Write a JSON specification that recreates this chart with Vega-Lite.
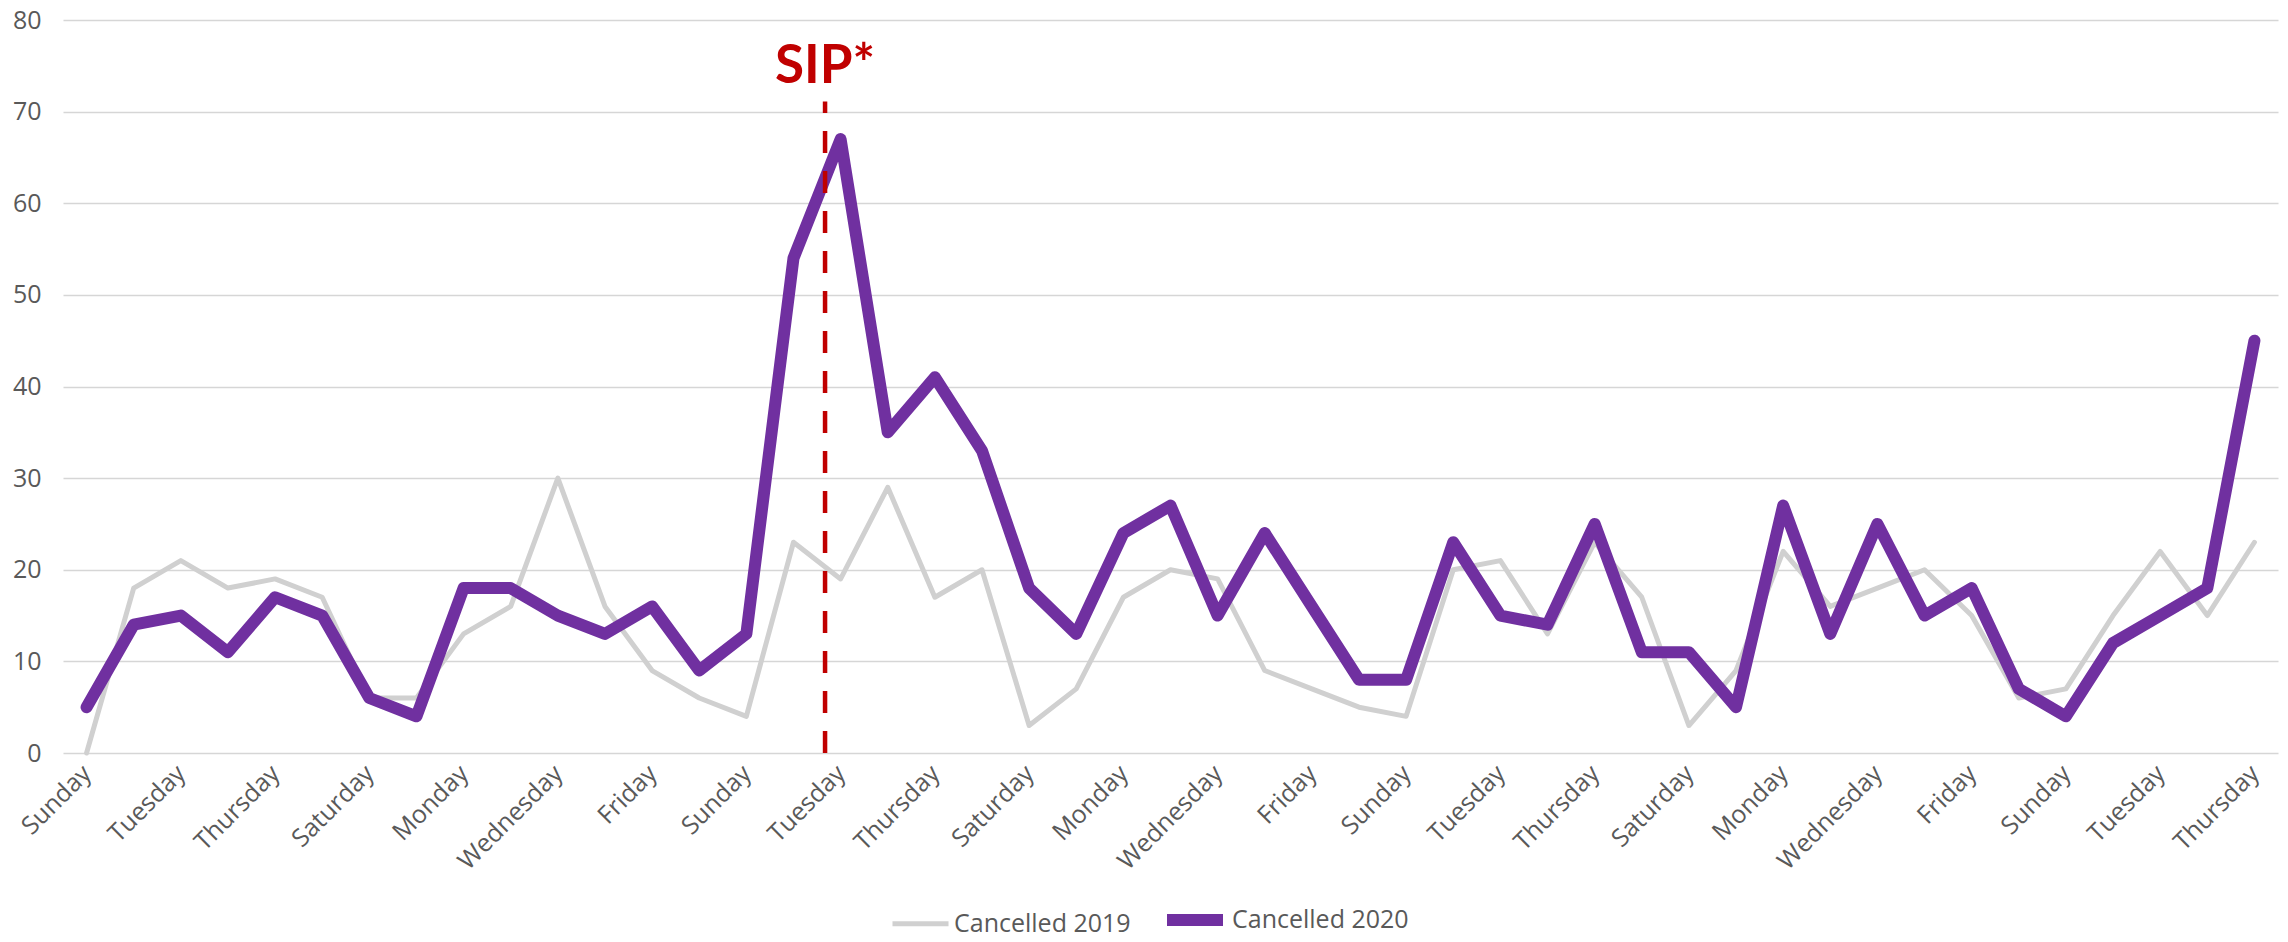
{
  "$schema": "https://vega.github.io/schema/vega-lite/v6.json",
  "width": 2215,
  "height": 733,
  "autosize": {"type": "none"},
  "padding": {"left": 63, "top": 20, "right": 10, "bottom": 189},
  "background": "white",
  "config": {
    "view": {"stroke": null},
    "font": "Open Sans"
  },
  "layer": [
    {
      "data": {
        "values": [
          {"day": 0, "series": "Cancelled 2019", "value": 0},
          {"day": 1, "series": "Cancelled 2019", "value": 18},
          {"day": 2, "series": "Cancelled 2019", "value": 21},
          {"day": 3, "series": "Cancelled 2019", "value": 18},
          {"day": 4, "series": "Cancelled 2019", "value": 19},
          {"day": 5, "series": "Cancelled 2019", "value": 17},
          {"day": 6, "series": "Cancelled 2019", "value": 6},
          {"day": 7, "series": "Cancelled 2019", "value": 6},
          {"day": 8, "series": "Cancelled 2019", "value": 13},
          {"day": 9, "series": "Cancelled 2019", "value": 16},
          {"day": 10, "series": "Cancelled 2019", "value": 30},
          {"day": 11, "series": "Cancelled 2019", "value": 16},
          {"day": 12, "series": "Cancelled 2019", "value": 9},
          {"day": 13, "series": "Cancelled 2019", "value": 6},
          {"day": 14, "series": "Cancelled 2019", "value": 4},
          {"day": 15, "series": "Cancelled 2019", "value": 23},
          {"day": 16, "series": "Cancelled 2019", "value": 19},
          {"day": 17, "series": "Cancelled 2019", "value": 29},
          {"day": 18, "series": "Cancelled 2019", "value": 17},
          {"day": 19, "series": "Cancelled 2019", "value": 20},
          {"day": 20, "series": "Cancelled 2019", "value": 3},
          {"day": 21, "series": "Cancelled 2019", "value": 7},
          {"day": 22, "series": "Cancelled 2019", "value": 17},
          {"day": 23, "series": "Cancelled 2019", "value": 20},
          {"day": 24, "series": "Cancelled 2019", "value": 19},
          {"day": 25, "series": "Cancelled 2019", "value": 9},
          {"day": 26, "series": "Cancelled 2019", "value": 7},
          {"day": 27, "series": "Cancelled 2019", "value": 5},
          {"day": 28, "series": "Cancelled 2019", "value": 4},
          {"day": 29, "series": "Cancelled 2019", "value": 20},
          {"day": 30, "series": "Cancelled 2019", "value": 21},
          {"day": 31, "series": "Cancelled 2019", "value": 13},
          {"day": 32, "series": "Cancelled 2019", "value": 23},
          {"day": 33, "series": "Cancelled 2019", "value": 17},
          {"day": 34, "series": "Cancelled 2019", "value": 3},
          {"day": 35, "series": "Cancelled 2019", "value": 9},
          {"day": 36, "series": "Cancelled 2019", "value": 22},
          {"day": 37, "series": "Cancelled 2019", "value": 16},
          {"day": 38, "series": "Cancelled 2019", "value": 18},
          {"day": 39, "series": "Cancelled 2019", "value": 20},
          {"day": 40, "series": "Cancelled 2019", "value": 15},
          {"day": 41, "series": "Cancelled 2019", "value": 6},
          {"day": 42, "series": "Cancelled 2019", "value": 7},
          {"day": 43, "series": "Cancelled 2019", "value": 15},
          {"day": 44, "series": "Cancelled 2019", "value": 22},
          {"day": 45, "series": "Cancelled 2019", "value": 15},
          {"day": 46, "series": "Cancelled 2019", "value": 23},
          {"day": 0, "series": "Cancelled 2020", "value": 5},
          {"day": 1, "series": "Cancelled 2020", "value": 14},
          {"day": 2, "series": "Cancelled 2020", "value": 15},
          {"day": 3, "series": "Cancelled 2020", "value": 11},
          {"day": 4, "series": "Cancelled 2020", "value": 17},
          {"day": 5, "series": "Cancelled 2020", "value": 15},
          {"day": 6, "series": "Cancelled 2020", "value": 6},
          {"day": 7, "series": "Cancelled 2020", "value": 4},
          {"day": 8, "series": "Cancelled 2020", "value": 18},
          {"day": 9, "series": "Cancelled 2020", "value": 18},
          {"day": 10, "series": "Cancelled 2020", "value": 15},
          {"day": 11, "series": "Cancelled 2020", "value": 13},
          {"day": 12, "series": "Cancelled 2020", "value": 16},
          {"day": 13, "series": "Cancelled 2020", "value": 9},
          {"day": 14, "series": "Cancelled 2020", "value": 13},
          {"day": 15, "series": "Cancelled 2020", "value": 54},
          {"day": 16, "series": "Cancelled 2020", "value": 67},
          {"day": 17, "series": "Cancelled 2020", "value": 35},
          {"day": 18, "series": "Cancelled 2020", "value": 41},
          {"day": 19, "series": "Cancelled 2020", "value": 33},
          {"day": 20, "series": "Cancelled 2020", "value": 18},
          {"day": 21, "series": "Cancelled 2020", "value": 13},
          {"day": 22, "series": "Cancelled 2020", "value": 24},
          {"day": 23, "series": "Cancelled 2020", "value": 27},
          {"day": 24, "series": "Cancelled 2020", "value": 15},
          {"day": 25, "series": "Cancelled 2020", "value": 24},
          {"day": 26, "series": "Cancelled 2020", "value": 16},
          {"day": 27, "series": "Cancelled 2020", "value": 8},
          {"day": 28, "series": "Cancelled 2020", "value": 8},
          {"day": 29, "series": "Cancelled 2020", "value": 23},
          {"day": 30, "series": "Cancelled 2020", "value": 15},
          {"day": 31, "series": "Cancelled 2020", "value": 14},
          {"day": 32, "series": "Cancelled 2020", "value": 25},
          {"day": 33, "series": "Cancelled 2020", "value": 11},
          {"day": 34, "series": "Cancelled 2020", "value": 11},
          {"day": 35, "series": "Cancelled 2020", "value": 5},
          {"day": 36, "series": "Cancelled 2020", "value": 27},
          {"day": 37, "series": "Cancelled 2020", "value": 13},
          {"day": 38, "series": "Cancelled 2020", "value": 25},
          {"day": 39, "series": "Cancelled 2020", "value": 15},
          {"day": 40, "series": "Cancelled 2020", "value": 18},
          {"day": 41, "series": "Cancelled 2020", "value": 7},
          {"day": 42, "series": "Cancelled 2020", "value": 4},
          {"day": 43, "series": "Cancelled 2020", "value": 12},
          {"day": 44, "series": "Cancelled 2020", "value": 15},
          {"day": 45, "series": "Cancelled 2020", "value": 18},
          {"day": 46, "series": "Cancelled 2020", "value": 45}
        ]
      },
      "mark": {"type": "line", "strokeCap": "round", "strokeJoin": "round"},
      "encoding": {
        "x": {
          "field": "day",
          "type": "quantitative",
          "scale": {"domain": [-0.5, 46.5], "nice": false, "zero": false},
          "axis": {
            "title": null,
            "values": [0, 2, 4, 6, 8, 10, 12, 14, 16, 18, 20, 22, 24, 26, 28, 30, 32, 34, 36, 38, 40, 42, 44, 46],
            "labelExpr": "['Sunday','Monday','Tuesday','Wednesday','Thursday','Friday','Saturday'][datum.value % 7]",
            "labelAngle": -45,
            "labelAlign": "right",
            "labelBaseline": "middle",
            "labelPadding": 16,
            "labelFontSize": 25,
            "labelColor": "#595959",
            "labelOverlap": false,
            "labelFlush": false,
            "grid": false,
            "ticks": false,
            "domain": false
          }
        },
        "y": {
          "field": "value",
          "type": "quantitative",
          "scale": {"domain": [0, 80], "nice": false},
          "axis": {
            "title": null,
            "values": [0, 10, 20, 30, 40, 50, 60, 70, 80],
            "grid": true,
            "gridColor": "#D6D6D6",
            "gridWidth": 1.6,
            "ticks": false,
            "domain": false,
            "labelPadding": 22,
            "labelFontSize": 25,
            "labelColor": "#595959"
          }
        },
        "color": {
          "field": "series",
          "type": "nominal",
          "scale": {"domain": ["Cancelled 2019", "Cancelled 2020"], "range": ["#D0D0D0", "#7030A0"]},
          "legend": {
            "title": null,
            "orient": "none",
            "legendX": 827,
            "legendY": 866,
            "direction": "horizontal",
            "symbolType": "stroke",
            "symbolSize": 3136,
            "labelFontSize": 25,
            "labelColor": "#595959",
            "labelOffset": 3,
            "labelLimit": 400,
            "columnPadding": 12
          }
        },
        "strokeWidth": {
          "field": "series",
          "type": "nominal",
          "scale": {"domain": ["Cancelled 2019", "Cancelled 2020"], "range": [5, 12]},
          "legend": {
            "title": null,
            "orient": "none",
            "legendX": 827,
            "legendY": 866,
            "direction": "horizontal",
            "symbolType": "stroke",
            "symbolSize": 3136,
            "labelFontSize": 25,
            "labelColor": "#595959",
            "labelOffset": 3,
            "labelLimit": 400,
            "columnPadding": 12
          }
        }
      }
    },
    {
      "data": {"values": [{"day": 15.67, "value": 0, "value2": 71.1}]},
      "mark": {"type": "rule", "color": "#C00000", "strokeWidth": 4.5, "strokeDash": [22, 18]},
      "encoding": {
        "x": {"field": "day", "type": "quantitative"},
        "y": {"field": "value", "type": "quantitative"},
        "y2": {"field": "value2"}
      }
    },
    {
      "data": {"values": [{"day": 15.67, "value": 73.1, "label": "SIP*"}]},
      "mark": {"type": "text", "color": "#C00000", "font": "Lato", "fontSize": 53, "fontWeight": "bold", "align": "center", "baseline": "alphabetic"},
      "encoding": {
        "x": {"field": "day", "type": "quantitative"},
        "y": {"field": "value", "type": "quantitative"},
        "text": {"field": "label"}
      }
    }
  ]
}
